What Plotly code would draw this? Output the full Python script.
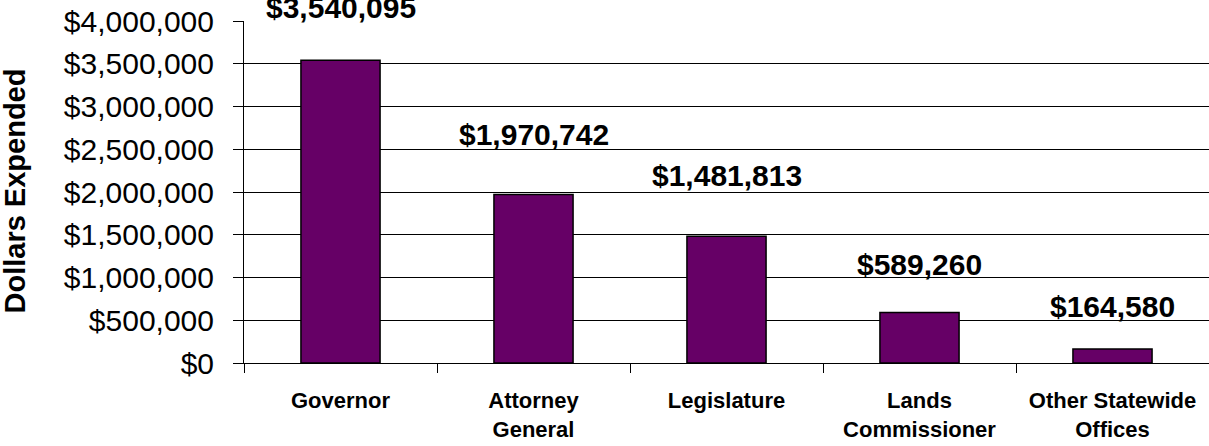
import plotly.graph_objects as go

categories = ["Governor", "Attorney<br>General", "Legislature", "Lands<br>Commissioner", "Other Statewide<br>Offices"]
values = [3540095, 1970742, 1481813, 589260, 164580]
labels = ["$3,540,095", "$1,970,742", "$1,481,813", "$589,260", "$164,580"]
y_ticks = [0, 500000, 1000000, 1500000, 2000000, 2500000, 3000000, 3500000, 4000000]
y_tick_text = ["${:,}".format(v) for v in y_ticks]

# styling: vertical offset (px) of each value label above its bar
label_offsets = [53, 60, 61, 48, 42]

FONT = "Arial, Liberation Sans, sans-serif"

fig = go.Figure()
fig.add_trace(go.Bar(
    x=categories, y=values,
    marker=dict(color="#660066", line=dict(color="black", width=1.5)),
    width=0.41,
    hoverinfo="skip",
))

for c, v, t, off in zip(categories, values, labels, label_offsets):
    fig.add_annotation(x=c, y=v, text="<b>%s</b>" % t, showarrow=False,
                       xref="x", yref="y", yanchor="middle", yshift=off,
                       font=dict(family=FONT, size=30, color="black"))

fig.add_annotation(text="<b>Dollars Expended</b>", textangle=-90,
                   xref="paper", yref="paper", x=(14 - 244) / 965, y=(363 - 316) / 342,
                   xanchor="center", yanchor="bottom", showarrow=False,
                   font=dict(family=FONT, size=29, color="black"))

fig.update_layout(
    width=1209, height=446,
    margin=dict(l=244, r=0, t=21, b=83, autoexpand=False),
    paper_bgcolor="white", plot_bgcolor="white",
    showlegend=False, bargap=0.59,
)
fig.update_yaxes(
    range=[0, 4000000], tickvals=y_ticks, ticktext=y_tick_text,
    showgrid=True, gridcolor="black", gridwidth=1,
    showline=True, linecolor="black", linewidth=1,
    ticks="outside", ticklen=10, tickcolor="black",
    tickfont=dict(family=FONT, size=30, color="black"),
    ticklabelstandoff=13, zeroline=False, automargin=False,
)
fig.update_xaxes(
    showline=True, linecolor="black", linewidth=1,
    ticks="outside", ticklen=9, tickcolor="black", tickson="boundaries",
    tickfont=dict(family=FONT, size=22, color="black"),
    tickprefix="<b>", ticksuffix="</b>", ticklabelstandoff=18, automargin=False,
)

fig.write_html("out.html", config={"displayModeBar": False},
               post_script="document.body.style.margin='0';document.body.style.overflow='hidden';")
